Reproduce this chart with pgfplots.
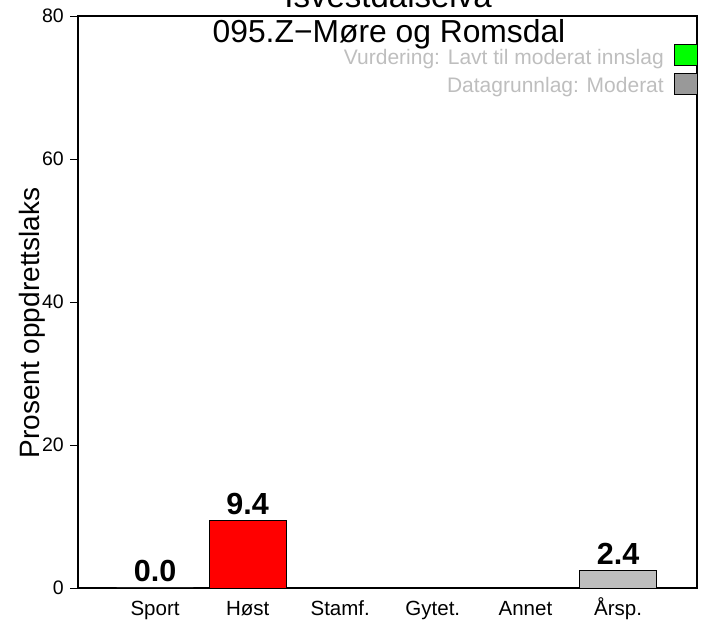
\documentclass[border=0pt]{standalone}
\usepackage{pgfplots}
\pgfplotsset{compat=1.18}
\usepackage{fontspec}
\setmainfont{Liberation Sans}
\definecolor{lblgray}{HTML}{BEBEBE}
\definecolor{boxgray}{HTML}{999999}
\definecolor{lgreen}{HTML}{00FF00}
\newcommand{\fs}[1]{\fontsize{#1bp}{#1bp}\selectfont}
\begin{document}
\begin{tikzpicture}[x=1bp,y=1bp]
\useasboundingbox (0,0) rectangle (706,620);
\clip (0,0) rectangle (706,620);
\begin{axis}[
  at={(78bp,32bp)}, anchor=south west,
  scale only axis, width=619bp, height=572bp,
  xmin=-0.832, xmax=5.853, ymin=0, ymax=80,
  axis line style={line width=1.2pt},
  ytick={0,20,40,60,80},
  xtick={0,1,2,3,4,5},
  xticklabels={Sport,Høst,Stamf.,Gytet.,Annet,Årsp.},
  x tick style={draw=none},
  y tick style={line width=0.8pt, black},
  tick align=outside, tick pos=left,
  major tick length=8bp,
  /pgf/number format/assume math mode=true,
  yticklabel style={font=\fs{19.5}, inner sep=0pt, xshift=-6bp},
  xticklabel style={font=\fs{20.5}, inner sep=0pt, anchor=base, yshift=-20bp},
  ybar, bar width=0.83, bar shift=0pt,
  nodes near coords,
  nodes near coords style={font=\bfseries\fs{30.5}, anchor=base, inner sep=0pt, yshift=6bp, /pgf/number format/.cd, fixed, fixed zerofill, precision=1},
]
\addplot[draw=black, line width=0.9pt, fill=white] coordinates {(0,0)};
\addplot[draw=black, line width=0.9pt, fill=red] coordinates {(1,9.4)};
\addplot[draw=black, line width=0.9pt, fill=lblgray] coordinates {(5,2.4)};
\end{axis}
% clipped main title
\node[anchor=base, font=\fs{33}] at (388,612) {Isvestdalselva};
\node[anchor=base, font=\fs{31.8}] at (389,577) {095.Z−Møre og Romsdal};
\node[anchor=base east, font=\fs{21}, text=lblgray, inner sep=0pt] at (664,555) {Vurdering: Lavt til moderat innslag};
\node[anchor=base east, font=\fs{21}, text=lblgray, inner sep=0pt] at (664,527) {Datagrunnlag: Moderat};
\draw[line width=1pt, fill=lgreen] (674,554) rectangle (697,575);
\draw[line width=1pt, fill=boxgray] (674,525) rectangle (697,546);
\node[rotate=90, anchor=base, font=\fs{28}, inner sep=0pt] at (39,297) {Prosent oppdrettslaks};
\end{tikzpicture}
\end{document}
